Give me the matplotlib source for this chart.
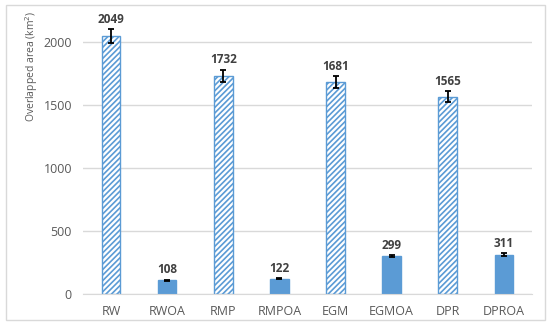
import matplotlib.pyplot as plt
from matplotlib.patches import Rectangle
import numpy as np

# data
cats = ['RW', 'RWOA', 'RMP', 'RMPOA', 'EGM', 'EGMOA', 'DPR', 'DPROA']
vals = [2049, 108, 1732, 122, 1681, 299, 1565, 311]
errs = [55, 6, 48, 6, 45, 10, 42, 10]
hatched = [True, False, True, False, True, False, True, False]

blue = '#5B9BD5'
plt.rcParams['font.family'] = ['Open Sans', 'DejaVu Sans']
plt.rcParams['hatch.linewidth'] = 1.2
plt.rcParams['hatch.color'] = blue

fig = plt.figure(figsize=(5.5, 3.28), dpi=100)
# outer frame like the excel chart area
fig.patches.append(Rectangle((0.011, 0.025), 0.98, 0.96, transform=fig.transFigure,
                             fill=False, edgecolor='#D9D9D9', linewidth=1))
ax = fig.add_axes([0.151, 0.104, 0.816, 0.845])

x = np.arange(len(cats))
for i in range(len(cats)):
    if hatched[i]:
        ax.bar(x[i], vals[i], width=0.33, color='white', edgecolor=blue,
               hatch='//////', linewidth=1, zorder=2)
    else:
        ax.bar(x[i], vals[i], width=0.33, color=blue, edgecolor=blue, zorder=2)
    ax.errorbar(x[i], vals[i], yerr=errs[i], color='black', capsize=2.5,
                elinewidth=1.3, capthick=1.3, zorder=3)
    ax.text(x[i], vals[i] + errs[i] + 25, str(vals[i]), ha='center', va='bottom',
            fontsize=8.5, fontweight='bold', color='#404040')

ax.set_xlim(-0.5, len(cats) - 0.5)
ax.set_ylim(0, 2200)
ax.set_yticks([0, 500, 1000, 1500, 2000])
ax.set_xticks(x)
ax.set_xticklabels(cats)
ax.grid(axis='y', color='#D9D9D9', linewidth=1, zorder=0)
ax.set_axisbelow(True)
for s in ['top', 'right', 'left']:
    ax.spines[s].set_visible(False)
ax.spines['bottom'].set_color('#D9D9D9')
ax.tick_params(length=0, labelsize=9, labelcolor='#595959', pad=8)
ax.set_ylabel('Overlapped area (km$^2$)', fontsize=7.5, color='#595959')
ax.yaxis.set_label_coords(-0.095, 0.82)

fig.savefig('out.png', dpi=100)
